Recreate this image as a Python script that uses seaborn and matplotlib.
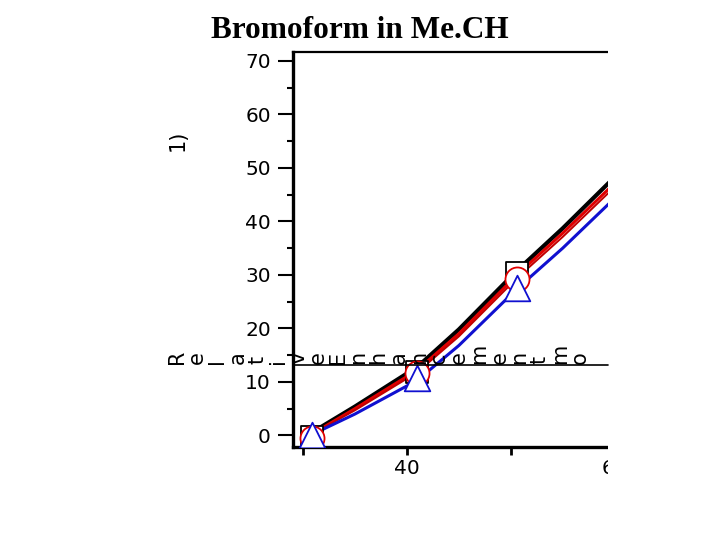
import numpy as np
import pandas as pd
import matplotlib
matplotlib.use("Agg")
import matplotlib.pyplot as plt
from matplotlib.patches import Rectangle
import seaborn as sns

# fitted curves
curve_x = [30.9, 35.0, 41.0, 45.0, 50.6, 55.0, 61.0]
black_curve = [0.6, 5.4, 12.8, 19.8, 30.8, 38.7, 50.2]
red_curve = [0.3, 5.0, 12.2, 19.0, 30.0, 37.8, 49.0]
red_thin_curve = [0.3, 4.7, 11.8, 18.5, 29.4, 37.1, 48.3]
blue_curve = [0.2, 4.0, 10.3, 16.8, 27.4, 35.0, 46.2]

# measured points (the last one sits past the cut-off edge)
point_x = [30.9, 41.0, 50.6, 61.0]
squares = [-0.3, 11.9, 30.4, 49.5]
circles = [-0.4, 11.7, 29.2, 48.5]
triangles = [0.0, 10.8, 27.6, 45.8]

y_ticks = [0, 10, 20, 30, 40, 50, 60, 70]
x_ticks = [40, 60]
title = "Bromoform in Me.CH"
label_glyphs = list("RelativeEnhancementmo")
label_tail = "1)"

sns.set_style("ticks")
plt.rcParams['font.family'] = ['DejaVu Sans']
for key in ["text.color", "axes.labelcolor", "xtick.color", "ytick.color", "axes.edgecolor"]:
    plt.rcParams[key] = "black"

W, H = 720, 540
fig = plt.figure(figsize=(7.2, 5.4), dpi=100)
ax = fig.add_axes([293 / W, 1 - 446.7 / H, (650 - 293) / W, (446.7 - 51.7) / H])

curves = pd.DataFrame({
    "x": curve_x * 4,
    "y": black_curve + red_curve + red_thin_curve + blue_curve,
    "s": ["black"] * 7 + ["red"] * 7 + ["red_thin"] * 7 + ["blue"] * 7,
})
styles = {"black": ("#000000", 3.0), "red": ("#e00000", 2.2),
          "red_thin": ("#c00000", 1.4), "blue": ("#1010d0", 2.2)}
for name, (col, lw) in styles.items():
    sns.lineplot(data=curves[curves.s == name], x="x", y="y", color=col,
                 linewidth=lw, ax=ax, legend=False)

pts = pd.DataFrame({"x": point_x, "sq": squares, "ci": circles, "tr": triangles})
sns.scatterplot(data=pts, x="x", y="sq", marker="s", s=260, facecolor="white",
                edgecolor="black", linewidth=1.3, ax=ax, zorder=5)
sns.scatterplot(data=pts, x="x", y="ci", marker="o", s=300, facecolor="white",
                edgecolor="#e00000", linewidth=1.3, ax=ax, zorder=6)
sns.scatterplot(data=pts, x="x", y="tr", marker="^", s=340, facecolor="white",
                edgecolor="#1010d0", linewidth=1.3, ax=ax, zorder=7)

ax.set_xlim(29.04, 63.4)
ax.set_ylim(-2.1, 71.7)
ax.set_yticks(y_ticks)
ax.set_yticks(np.arange(5, 70, 10), minor=True)
ax.set_xticks(x_ticks)
ax.set_xticks([30, 50], minor=True)
ax.tick_params(axis="y", which="major", length=11, width=1.5, pad=5, labelsize=14.5)
ax.tick_params(axis="y", which="minor", length=4.5, width=1.5)
ax.tick_params(axis="x", which="both", length=6, width=2, pad=3, labelsize=14.5)
ax.set_xlabel("")
ax.set_ylabel("")
ax.spines["left"].set_linewidth(2.4)
ax.spines["bottom"].set_linewidth(2.4)
ax.spines["top"].set_linewidth(1.6)
ax.spines["right"].set_visible(False)

# chart is cut off on the right in the reference
fig.add_artist(Rectangle((608 / W, 0), 1 - 608 / W, 1, transform=fig.transFigure,
                         facecolor="white", edgecolor="none", zorder=20))

fig.text(360 / W, 1 - 31 / H, title, ha="center", va="center", fontsize=22.5,
         fontweight="bold", family=["Liberation Serif", "DejaVu Serif"])

# garbled y label: glyphs rotated but laid out along a line
gx = np.linspace(177, 580, len(label_glyphs))
for ch, px in zip(label_glyphs, gx):
    fig.text(px / W, 1 - 364 / H, ch, rotation=90, ha="center", va="bottom",
             fontsize=15, zorder=25)
fig.add_artist(plt.Line2D([293 / W, 608 / W], [1 - 365 / H, 1 - 365 / H],
                          transform=fig.transFigure, color="black", linewidth=1.2,
                          zorder=25))
fig.text(178 / W, 1 - 140 / H, label_tail, rotation=90, ha="center", va="center",
         fontsize=15)

fig.savefig("out.png", dpi=100)
